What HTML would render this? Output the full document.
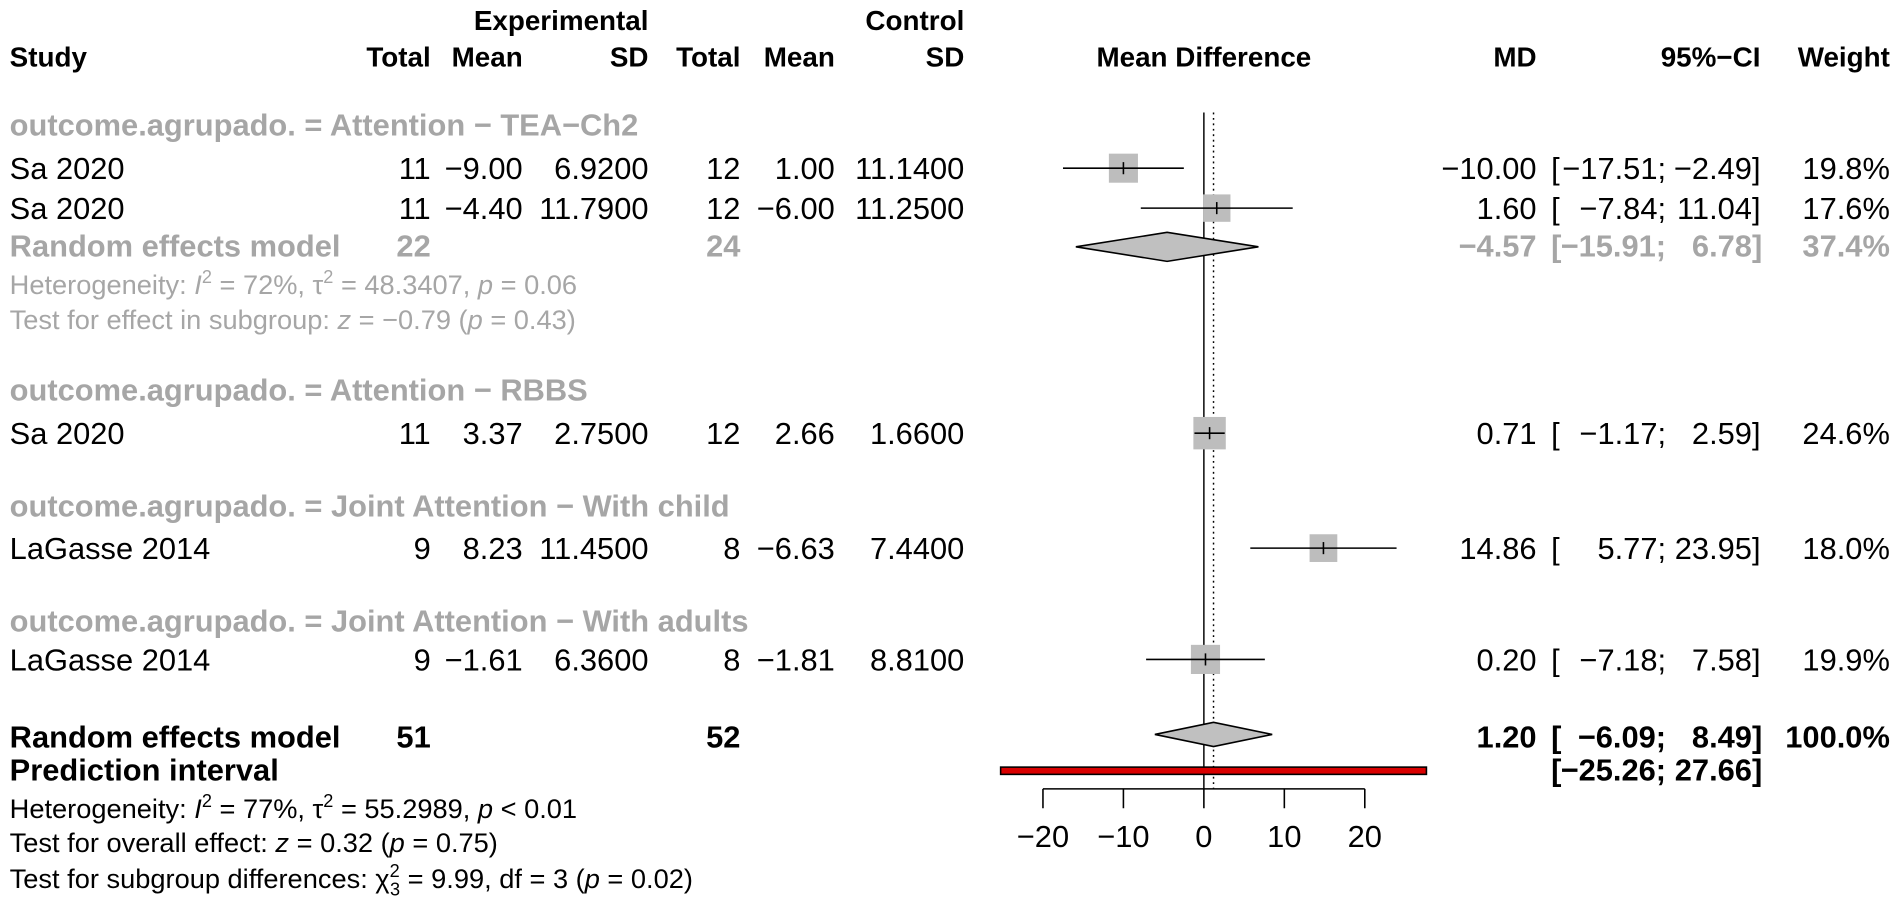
<!DOCTYPE html>
<html><head><meta charset="utf-8"><style>
html,body{margin:0;padding:0;background:#fff;}
svg{display:block;font-family:"Liberation Sans",Arial,sans-serif;}
.t{font-size:25.5px;fill:#000}
.h{font-size:23px;font-weight:bold;fill:#000}
.b{font-weight:bold}
.g{fill:#a6a6a6}
</style></head><body>
<svg id="plot" width="1902" height="914" viewBox="0 0 1572 755.4" preserveAspectRatio="none" xmlns="http://www.w3.org/2000/svg">
<g class="h">
<text x="536" y="25" text-anchor="end">Experimental</text>
<text x="797" y="25" text-anchor="end">Control</text>
<text x="8" y="55">Study</text>
<text x="356" y="55" text-anchor="end">Total</text>
<text x="432" y="55" text-anchor="end">Mean</text>
<text x="536" y="55" text-anchor="end">SD</text>
<text x="612" y="55" text-anchor="end">Total</text>
<text x="690" y="55" text-anchor="end">Mean</text>
<text x="797" y="55" text-anchor="end">SD</text>
<text x="995" y="55" text-anchor="middle">Mean Difference</text>
<text x="1270" y="55" text-anchor="end">MD</text>
<text x="1455" y="55" text-anchor="end">95%−CI</text>
<text x="1562" y="55" text-anchor="end">Weight</text>
</g>
<g class="t">
<text class="b g" x="8" y="112">outcome.agrupado. = Attention − TEA−Ch2</text>
<text class="b g" x="8" y="331">outcome.agrupado. = Attention − RBBS</text>
<text class="b g" x="8" y="427">outcome.agrupado. = Joint Attention − With child</text>
<text class="b g" x="8" y="522">outcome.agrupado. = Joint Attention − With adults</text>
<text class="b g" x="8" y="212">Random effects model</text>
<text class="b g" x="356" y="212" text-anchor="end">22</text>
<text class="b g" x="612" y="212" text-anchor="end">24</text>
<text class="g" x="8" y="243" font-size="22.5">Heterogeneity: <tspan font-style="italic">I</tspan><tspan dy="-9" font-size="15">2</tspan><tspan dy="9"> = 72%, τ</tspan><tspan dy="-9" font-size="15">2</tspan><tspan dy="9"> = 48.3407, </tspan><tspan font-style="italic">p</tspan> = 0.06</text>
<text class="g" x="8" y="272" font-size="22.5">Test for effect in subgroup: <tspan font-style="italic">z</tspan> = −0.79 (<tspan font-style="italic">p</tspan> = 0.43)</text>
<text class="b" x="8" y="618">Random effects model</text>
<text class="b" x="356" y="618" text-anchor="end">51</text>
<text class="b" x="612" y="618" text-anchor="end">52</text>
<text class="b" x="8" y="645">Prediction interval</text>
<text x="8" y="676" font-size="22.5">Heterogeneity: <tspan font-style="italic">I</tspan><tspan dy="-9" font-size="15">2</tspan><tspan dy="9"> = 77%, τ</tspan><tspan dy="-9" font-size="15">2</tspan><tspan dy="9"> = 55.2989, </tspan><tspan font-style="italic">p</tspan> &lt; 0.01</text>
<text x="8" y="704" font-size="22.5">Test for overall effect: <tspan font-style="italic">z</tspan> = 0.32 (<tspan font-style="italic">p</tspan> = 0.75)</text>
<text x="8" y="734" font-size="22.5">Test for subgroup differences: χ<tspan dy="-9" font-size="15">2</tspan><tspan dx="-8" dy="15" font-size="15">3</tspan><tspan dy="-6"> = 9.99, df = 3 (</tspan><tspan font-style="italic">p</tspan> = 0.02)</text>
<text class="b" x="1270" y="618" text-anchor="end">1.20</text>
<text class="b" x="1282" y="618">[</text>
<text class="b" x="1377" y="618" text-anchor="end">−6.09;</text>
<text class="b" x="1448" y="618" text-anchor="end">8.49</text>
<text class="b" x="1448" y="618">]</text>
<text class="b" x="1562" y="618" text-anchor="end">100.0%</text>
<text class="b" x="1282" y="645">[</text>
<text class="b" x="1377" y="645" text-anchor="end">−25.26;</text>
<text class="b" x="1448" y="645" text-anchor="end">27.66</text>
<text class="b" x="1448" y="645">]</text>
<text class="b g" x="1270" y="212" text-anchor="end">−4.57</text>
<text class="b g" x="1282" y="212">[</text>
<text class="b g" x="1377" y="212" text-anchor="end">−15.91;</text>
<text class="b g" x="1448" y="212" text-anchor="end">6.78</text>
<text class="b g" x="1448" y="212">]</text>
<text class="b g" x="1562" y="212" text-anchor="end">37.4%</text>
</g>
<g id="rows"></g>
<g id="marks"></g>
</svg>
<script>
const studies = ["Sa 2020","Sa 2020","Sa 2020","LaGasse  2014","LaGasse  2014"];
const expTotal = [11,11,11,9,9];
const expMean = [-9.00,-4.40,3.37,8.23,-1.61];
const expSD = [6.92,11.79,2.75,11.45,6.36];
const ctlTotal = [12,12,12,8,8];
const ctlMean = [1.00,-6.00,2.66,-6.63,-1.81];
const ctlSD = [11.14,11.25,1.66,7.44,8.81];
const md = [-10.00,1.60,0.71,14.86,0.20];
const lower = [-17.51,-7.84,-1.17,5.77,-7.18];
const upper = [-2.49,11.04,2.59,23.95,7.58];
const weight = [19.8,17.6,24.6,18.0,19.9];
const subMD = [-4.57], subLower = [-15.91], subUpper = [6.78];
const overallMD = 1.20, overallLower = -6.09, overallUpper = 8.49;
const piLower = -25.26, piUpper = 27.66;
const ticks = [-20,-10,0,10,20];

const NS = "http://www.w3.org/2000/svg";
const rowYs = [139,172,358,453,545];
const x = v => 995 + v * 6.65;
const fmt = (v,d) => (v<0?"−":"") + Math.abs(v).toFixed(d);
const rows = document.getElementById("rows");
const marks = document.getElementById("marks");
function mk(parent, tag, attrs, txt){
  const e = document.createElementNS(NS, tag);
  for (const k in attrs) e.setAttribute(k, attrs[k]);
  if (txt !== undefined) e.textContent = txt;
  parent.appendChild(e); return e;
}
function txt(g, xx, y, s, anchor){
  const e = mk(g, "text", {x:xx, y:y, "class":"t", "text-anchor":anchor||"start"}, s);
  
  
  return e;
}
studies.forEach((s,i)=>{
  const y = rowYs[i] + 9;
  const g = mk(rows, "g", {});
  
  
  txt(g, 8, y, s);
  txt(g, 356, y, String(expTotal[i]), "end");
  txt(g, 432, y, fmt(expMean[i],2), "end");
  txt(g, 536, y, expSD[i].toFixed(4), "end");
  txt(g, 612, y, String(ctlTotal[i]), "end");
  txt(g, 690, y, fmt(ctlMean[i],2), "end");
  txt(g, 797, y, ctlSD[i].toFixed(4), "end");
  txt(g, 1270, y, fmt(md[i],2), "end");
  txt(g, 1282, y, "[");
  txt(g, 1377, y, fmt(lower[i],2)+";", "end");
  txt(g, 1448, y, fmt(upper[i],2), "end");
  txt(g, 1448, y, "]");
  txt(g, 1562, y, weight[i].toFixed(1)+"%", "end");
});
const l0 = mk(marks,"line",{x1:x(0),x2:x(0),y1:93,y2:652,stroke:"#000","stroke-width":1.2});


const l1 = mk(marks,"line",{x1:x(overallMD),x2:x(overallMD),y1:93,y2:652,stroke:"#000","stroke-width":1.2,"stroke-dasharray":"1.5,3"});


md.forEach((m,i)=>{
  const y = rowYs[i];
  const s = 5.4*Math.sqrt(weight[i]);
  const sq = mk(marks,"rect",{x:x(m)-s/2,y:y-s/2,width:s,height:s,fill:"#bdbdbd"});
  
  
  const ci = mk(marks,"line",{x1:x(lower[i]),x2:x(upper[i]),y1:y,y2:y,stroke:"#000","stroke-width":1.3});
  
  
  const tk = mk(marks,"line",{x1:x(m),x2:x(m),y1:y-5,y2:y+5,stroke:"#000","stroke-width":1.3});
  
  
});
function diamond(m,lo,hi,y,h,name){
  const d = mk(marks,"polygon",{points:`${x(lo)},${y} ${x(m)},${y-h} ${x(hi)},${y} ${x(m)},${y+h}`,fill:"#c0c0c0",stroke:"#000","stroke-width":1.3});
  
  
}
diamond(subMD[0],subLower[0],subUpper[0],204,12,'subgroup-diamond');
diamond(overallMD,overallLower,overallUpper,607,10,'overall-diamond');
const pi = mk(marks,"rect",{x:x(piLower),y:634,width:x(piUpper)-x(piLower),height:6,fill:"#d90000",stroke:"#000","stroke-width":1.3});


const ax = mk(marks,"line",{x1:x(ticks[0]),x2:x(ticks[ticks.length-1]),y1:652,y2:652,stroke:"#000","stroke-width":1.3});


ticks.forEach(t=>{
  const tl = mk(marks,"line",{x1:x(t),x2:x(t),y1:652,y2:668,stroke:"#000","stroke-width":1.3});
  
  
  const lb = mk(marks,"text",{x:x(t),y:700,"class":"t","text-anchor":"middle"}, fmt(t,0));
  
  
});
</script>
</body></html>
